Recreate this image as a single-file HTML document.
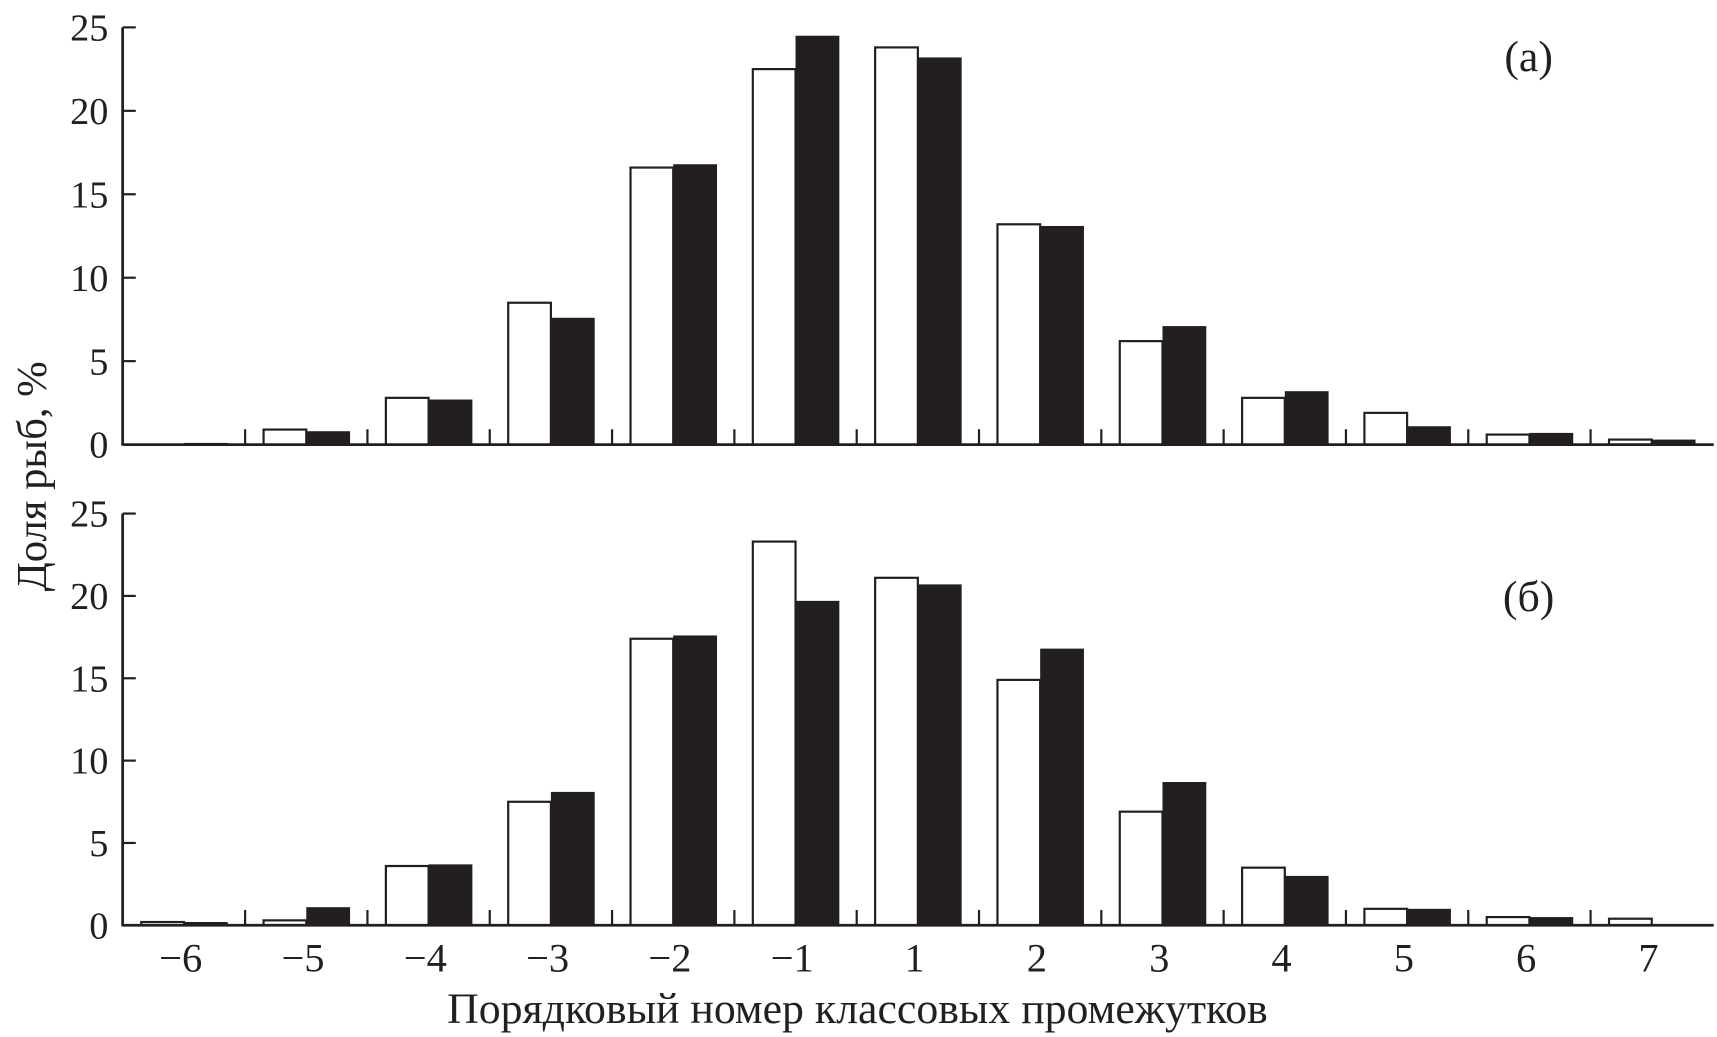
<!DOCTYPE html>
<html><head><meta charset="utf-8"><style>
html,body{margin:0;padding:0;background:#fff;}
svg{display:block;}
text{font-family:"Liberation Serif",serif;fill:#231f20;}
</style></head><body>
<svg id="chart" width="1717" height="1037" viewBox="0 0 1568 947" xmlns="http://www.w3.org/2000/svg"></svg>
<script>
const categories = ["−6","−5","−4","−3","−2","−1","1","2","3","4","5","6","7"];
const topWhite = [0,0.9,2.8,8.5,16.6,22.5,23.8,13.2,6.2,2.8,1.9,0.6,0.3];
const topBlack = [0.1,0.8,2.7,7.6,16.8,24.5,23.2,13.1,7.1,3.2,1.1,0.7,0.3];
const botWhite = [0.2,0.3,3.6,7.5,17.4,23.3,21.1,14.9,6.9,3.5,1.0,0.5,0.4];
const botBlack = [0.2,1.1,3.7,8.1,17.6,19.7,20.7,16.8,8.7,3.0,1.0,0.5,0];
const yTicks = [0,5,10,15,20,25];

const svg = document.getElementById('chart');
const NS = 'http://www.w3.org/2000/svg';
function mk(tag, attrs){const e=document.createElementNS(NS,tag);for(const k in attrs)e.setAttribute(k,attrs[k]);svg.appendChild(e);return e;}
const xL = 112, xR = 1565;
const xC = i => 168 + i*111.7;
const barW = 39;

function panel(name, y0, y25, white, black, label, ly){
  const yS = v => y0 - (y0-y25)*v/25;
  const ax = mk('line',{x1:xL,y1:y25,x2:xL,y2:y0+1,stroke:'#231f20','stroke-width':2.5});
  
  
  yTicks.forEach(t=>{
    const tk=mk('line',{x1:xL,y1:yS(t),x2:xL+12,y2:yS(t),stroke:'#231f20','stroke-width':2});
    
    
    const tl=mk('text',{x:99,y:yS(t)+12,'text-anchor':'end','font-size':35});
    tl.textContent=t;
    
    
  });
  categories.forEach((c,i)=>{
    const cx=xC(i);
    const hw=(y0-yS(white[i]));
    if(white[i]>0){
      const r=mk('rect',{x:cx-barW,y:yS(white[i]),width:barW,height:hw,fill:'#fff',stroke:'#231f20','stroke-width':2});
      
      
    }
    if(black[i]>0){
      const r=mk('rect',{x:cx,y:yS(black[i]),width:barW+1,height:y0-yS(black[i]),fill:'#231f20'});
      
      
    }
    if(i<categories.length-1){
      const s=mk('line',{x1:cx+55.85,y1:y0,x2:cx+55.85,y2:y0-14,stroke:'#231f20','stroke-width':2});
      
      
    }
  });
  const xa=mk('line',{x1:xL,y1:y0,x2:xR,y2:y0,stroke:'#231f20','stroke-width':2.5});
  
  
  const pl=mk('text',{x:1396,y:ly,'text-anchor':'middle','font-size':40});
  pl.textContent=label;
  
  
}
panel('top-panel',406,25,topWhite,topBlack,'(а)',65);
panel('bottom-panel',845,469,botWhite,botBlack,'(б)',558);

categories.forEach((c,i)=>{
  const t=mk('text',{x:xC(i)-3,y:887,'text-anchor':'middle','font-size':37});
  t.textContent=c;
  
  
});
const xt=mk('text',{x:783,y:934,'text-anchor':'middle','font-size':40});
xt.textContent='Порядковый номер классовых промежутков';


const yt=mk('text',{x:0,y:0,'text-anchor':'middle','font-size':39,transform:'translate(42,435) rotate(-90)'});
yt.textContent='Доля рыб, %';


</script>
</body></html>
